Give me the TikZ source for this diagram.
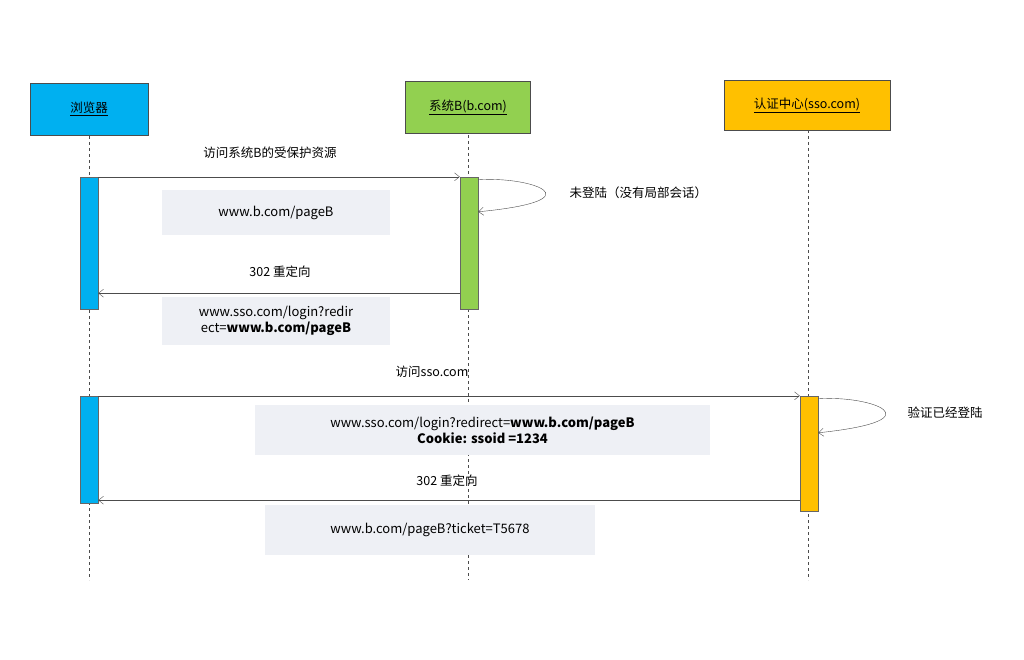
\documentclass[tikz,border=0pt]{standalone}
\usepackage{fontspec}
\setmainfont{Noto Sans CJK SC}
\usetikzlibrary{arrows.meta}
\definecolor{cy}{HTML}{00B0F0}
\definecolor{gr}{HTML}{92D050}
\definecolor{orng}{HTML}{FFC000}
\definecolor{gb}{HTML}{EEF0F5}
\begin{document}
\begin{tikzpicture}[x=1pt,y=-1pt,
 hd/.style={draw=black!70,minimum height=52pt,inner sep=0pt,font=\fontsize{12.5}{14}\selectfont},
 act/.style={draw=black!60,minimum width=18pt,inner sep=0pt},
 life/.style={dashed,black!70,thin},
 msg/.style={draw=black!70,-{Straight Barb[length=5pt,width=8pt]}},
 lbl/.style={font=\fontsize{12.5}{14}\selectfont},
 note/.style={fill=gb,inner sep=0pt,font=\fontsize{13}{16}\selectfont,align=center}]
\useasboundingbox (0,0) rectangle (1024,660);
\fill[white] (0,0) rectangle (1024,660);
% lifelines
\draw[life] (89,136) -- (89,580);
\draw[life] (468,135) -- (468,580);
\draw[life] (808,130) -- (808,580);
% heads
\node[hd,fill=cy,minimum width=118pt] (br) at (89,109) {\underline{浏览器}};
\node[hd,fill=gr,minimum width=125pt] (sb) at (468,107.5) {\underline{系统B(b.com)}};
\node[hd,fill=orng,minimum width=166pt,minimum height=50pt] (sso) at (807,105) {\underline{认证中心(sso.com)}};
% activations
\node[act,fill=cy,minimum height=132pt] (a1) at (89,243) {};
\node[act,fill=cy,minimum height=107pt] (a2) at (89,449.5) {};
\node[act,fill=gr,minimum height=132pt] (b1) at (469,243) {};
\node[act,fill=orng,minimum height=115pt] (s1) at (809,453.5) {};
% notes
\node[note,minimum width=228pt,minimum height=45pt] (n1) at (276,212.5) {www.b.com/pageB};
\node[note,minimum width=228pt,minimum height=48pt] (n2) at (276,321) {www.sso.com/login?redir\\ect=\textbf{www.b.com/pageB}};
\node[note,minimum width=455pt,minimum height=50pt] (n3) at (482.5,430) {www.sso.com/login?redirect=\textbf{www.b.com/pageB}\\\textbf{Cookie: ssoid =1234}};
\node[note,minimum width=330pt,minimum height=50pt] (n4) at (430,530) {www.b.com/pageB?ticket=T5678};
% messages
\coordinate (p1) at (a1.north east); \coordinate (q1) at (b1.north west);
\draw[msg] (p1) -- (q1);
\node[lbl] (l1) at (270,153) {访问系统B的受保护资源};
\coordinate (r1) at ([yshift=-3]b1.north east); \coordinate (r2) at ([yshift=-35]b1.north east);
\draw[msg] (r1) .. controls (530,176) and (600,200) .. (r2);
\node[lbl,anchor=west] (l2) at (566,193) {未登陆（没有局部会话）};
\coordinate (p2) at ([yshift=16]b1.south west); \coordinate (q2) at ([yshift=16]a1.south east);
\draw[msg] (p2) -- (q2);
\node[lbl] (l3) at (280,272) {302 重定向};
\coordinate (p3) at (a2.north east); \coordinate (q3) at (s1.north west);
\draw[msg] (p3) -- (q3);
\node[lbl] (l4) at (432,372) {访问sso.com};
\coordinate (r3) at ([yshift=-3]s1.north east); \coordinate (r4) at ([yshift=-37]s1.north east);
\draw[msg] (r3) .. controls (870,395) and (940,420) .. (r4);
\node[lbl,anchor=west] (l5) at (904,413) {验证已经登陆};
\coordinate (p4) at ([yshift=11]s1.south west); \coordinate (q4) at ([yshift=3]a2.south east);
\draw[msg] (p4) -- (q4);
\node[lbl] (l6) at (447,481) {302 重定向};
\end{tikzpicture}
\end{document}
